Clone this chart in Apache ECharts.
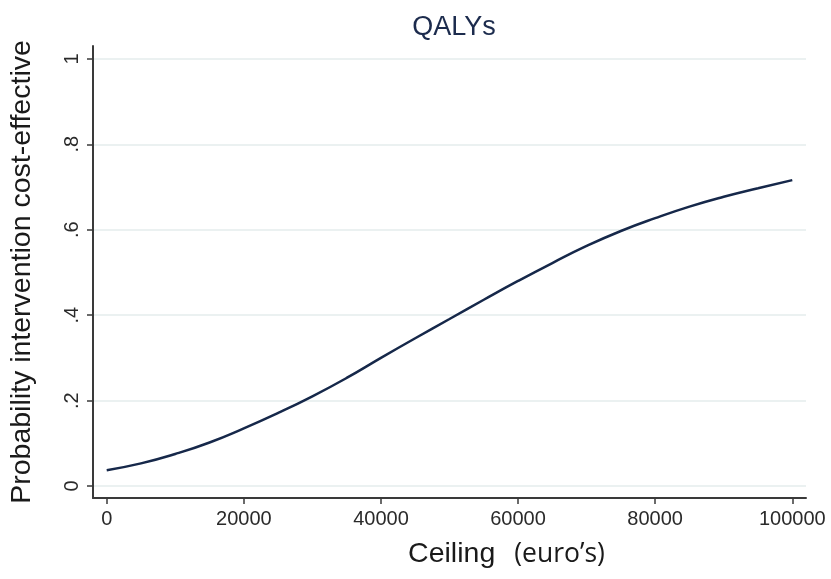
<!DOCTYPE html>
<html>
<head>
<meta charset="utf-8">
<script src="https://cdn.jsdelivr.net/npm/echarts@6/dist/echarts.min.js"></script>
<style>
  html, body { margin: 0; padding: 0; background: #fff; }
  #chart { width: 831px; height: 579px; }
</style>
</head>
<body>
<div id="chart"></div>
<script>
// Cost-effectiveness acceptability curve (QALYs)
const ceilings = [0, 5000, 10000, 15000, 20000, 25000, 30000, 35000, 40000, 45000, 50000,
                  55000, 60000, 65000, 70000, 75000, 80000, 85000, 90000, 95000, 100000];
const probability = [0.037, 0.053, 0.075, 0.102, 0.135, 0.171, 0.210, 0.253, 0.300, 0.346, 0.391,
                     0.436, 0.480, 0.522, 0.562, 0.597, 0.627, 0.654, 0.677, 0.697, 0.716];
const xTicks = [0, 20000, 40000, 60000, 80000, 100000];
const yTicks = [0, 0.2, 0.4, 0.6, 0.8, 1];

const axisColor = '#3a3a3a';
const gridColor = '#e4ecec';
const lineColor = '#16284a';
const textColor = '#1a1a1a';

const chart = echarts.init(document.getElementById('chart'));
chart.setOption({
  animation: false,
  backgroundColor: '#ffffff',
  title: {
    text: 'QALYs',
    left: 449,
    top: 9,
    textAlign: 'center',
    textStyle: { fontFamily: 'Liberation Sans', fontSize: 27, fontWeight: 'normal', color: '#1c2b4d' }
  },
  grid: { left: 92, right: 25, top: 46, bottom: 81, containLabel: false },
  xAxis: {
    type: 'value',
    min: -2000,
    max: 102000,
    name: '{a|Ceiling}{b|(euro’s)}',
    nameLocation: 'middle',
    nameGap: 42,
    nameTextStyle: {
      padding: [0, 0, 0, 114],
      rich: {
        a: { fontFamily: 'Liberation Sans', fontSize: 28.5, color: textColor },
        b: { fontFamily: 'Open Sans', fontSize: 26.5, color: textColor, padding: [0, 0, 0, 19] }
      }
    },
    axisLine: { show: true, onZero: false, lineStyle: { color: axisColor, width: 2 } },
    axisTick: { show: true, inside: false, length: 6, lineStyle: { color: axisColor, width: 1.5 }, customValues: xTicks },
    axisLabel: {
      customValues: xTicks,
      margin: 11,
      fontFamily: 'Liberation Sans',
      fontSize: 20,
      color: '#2a2a2a',
      formatter: v => String(v)
    },
    splitLine: { show: false }
  },
  yAxis: {
    type: 'value',
    min: -0.028,
    max: 1.03,
    name: 'Probability intervention cost-effective',
    nameLocation: 'middle',
    nameGap: 56,
    nameTextStyle: { fontFamily: 'Liberation Sans', fontSize: 28.5, color: textColor },
    axisLine: { show: true, onZero: false, lineStyle: { color: axisColor, width: 2 } },
    axisTick: { show: true, inside: false, length: 6, lineStyle: { color: axisColor, width: 1.5 }, customValues: yTicks },
    axisLabel: {
      customValues: yTicks,
      rotate: 90,
      margin: 11,
      fontFamily: 'Liberation Sans',
      fontSize: 20,
      color: '#2a2a2a',
      formatter: v => (v === 0 ? '0' : v === 1 ? '1' : String(+v.toFixed(1)).replace(/^0/, ''))
    },
    splitLine: { show: true, lineStyle: { color: gridColor, width: 1.5 } }
  },
  series: [{
    type: 'line',
    data: ceilings.map((c, i) => [c, probability[i]]),
    smooth: true,
    showSymbol: false,
    lineStyle: { color: lineColor, width: 2.5 }
  }]
});
</script>
</body>
</html>
